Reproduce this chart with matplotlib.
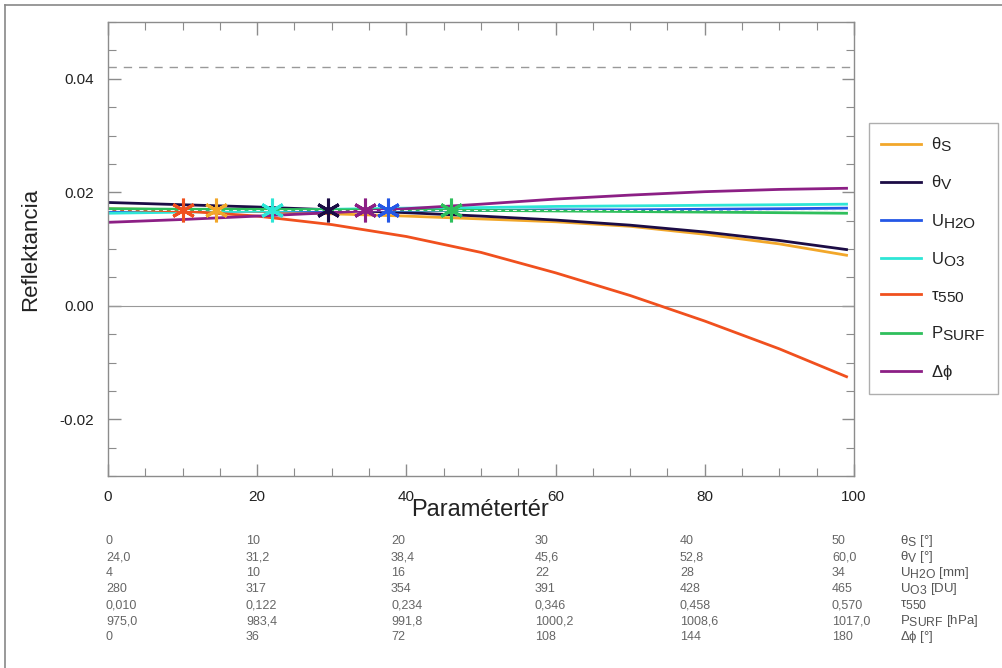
import matplotlib
matplotlib.use('Agg')
import matplotlib.pyplot as plt
from matplotlib.lines import Line2D

# IDL-style labels: subscripts nearly as large as the base text
try:
    import matplotlib._mathtext as _mt
    _mt.SHRINK_FACTOR = 0.92
except Exception:
    pass

plt.rcParams['font.family'] = ['Liberation Sans', 'DejaVu Sans']
plt.rcParams['mathtext.fontset'] = 'custom'
plt.rcParams['mathtext.rm'] = 'Liberation Sans'
plt.rcParams['mathtext.it'] = 'Liberation Sans'
plt.rcParams['mathtext.sf'] = 'Liberation Sans'

# parameter space positions where the curves were sampled
xs = [0, 10, 20, 30, 40, 50, 60, 70, 80, 90, 99]

theta_s = [0.0171, 0.0169, 0.0166, 0.0162, 0.0158, 0.0153, 0.0148, 0.0140, 0.0126, 0.0109, 0.0089]
theta_v = [0.0182, 0.0178, 0.0174, 0.0169, 0.0164, 0.0158, 0.0151, 0.0142, 0.0130, 0.0115, 0.0099]
u_h2o = [0.0166, 0.0166, 0.0167, 0.0167, 0.0168, 0.0168, 0.0169, 0.0169, 0.0170, 0.0171, 0.0172]
u_o3 = [0.0163, 0.0165, 0.0167, 0.0170, 0.0172, 0.0173, 0.0175, 0.0176, 0.0177, 0.0178, 0.0179]
tau550 = [0.0170, 0.0167, 0.0158, 0.0143, 0.0122, 0.0094, 0.0058, 0.0018, -0.0027, -0.0076, -0.0125]
p_surf = [0.0171, 0.0170, 0.0170, 0.0169, 0.0169, 0.0168, 0.0167, 0.0166, 0.0165, 0.0164, 0.0163]
d_phi = [0.0147, 0.0152, 0.0158, 0.0164, 0.0171, 0.0179, 0.0188, 0.0195, 0.0201, 0.0205, 0.0207]

series = [theta_s, theta_v, u_h2o, u_o3, tau550, p_surf, d_phi]
labels = [r'$\theta_{\mathrm{S}}$', r'$\theta_{\mathrm{V}}$', r'$\mathrm{U_{H2O}}$', r'$\mathrm{U_{O3}}$',
          r'$\tau_{\mathrm{550}}$', r'$\mathrm{P_{SURF}}$', r'$\Delta\phi$']
colors = ['#f2a72a', '#1c0c45', '#2457e6', '#2ee6d6', '#f0501e', '#2fbf5c', '#8c1f85']

# nominal parameter values (asterisks) and the reference reflectance
nominal_x = [14.5, 29.5, 37.5, 22, 10, 46, 34.5]
ref_refl = 0.0168
upper_refl = 0.042

# parameter scale table below the axis
table_rows = [
    ['0', '10', '20', '30', '40', '50'],
    ['24,0', '31,2', '38,4', '45,6', '52,8', '60,0'],
    ['4', '10', '16', '22', '28', '34'],
    ['280', '317', '354', '391', '428', '465'],
    ['0,010', '0,122', '0,234', '0,346', '0,458', '0,570'],
    ['975,0', '983,4', '991,8', '1000,2', '1008,6', '1017,0'],
    ['0', '36', '72', '108', '144', '180'],
]
table_units = [r'$\theta_{\mathrm{S}}$ [°]', r'$\theta_{\mathrm{V}}$ [°]', r'$\mathrm{U_{H2O}}$ [mm]',
               r'$\mathrm{U_{O3}}$ [DU]', r'$\tau_{\mathrm{550}}$', r'$\mathrm{P_{SURF}}$ [hPa]',
               r'$\Delta\phi$ [°]']

W, H = 1003, 668
fig = plt.figure(figsize=(W / 100, H / 100), dpi=100)
ax = fig.add_axes([108 / W, 1 - 476 / H, 746 / W, 454 / H])

ax.plot([0, 100], [upper_refl, upper_refl], color='#999999', lw=1, ls=(0, (6, 5)))
ax.axhline(0, color='#999999', lw=0.8)

for ys, lab, c in zip(series, labels, colors):
    ax.plot(xs, ys, color=c, lw=2, label=lab)

ax.plot([0, 100], [ref_refl, ref_refl], color='#f4f4f4', lw=0.7, ls=(0, (4, 4)), zorder=3)

for nx, c in zip(nominal_x, colors):
    ax.plot([nx], [ref_refl], marker=(6, 2, 0), ms=17, mew=2.2, color=c, zorder=4)

ax.set_xlim(0, 100)
ax.set_ylim(-0.03, 0.05)
ax.set_xticks([0, 20, 40, 60, 80, 100])
ax.set_xticks(range(0, 101, 5), minor=True)
ax.set_yticks([-0.02, 0.0, 0.02, 0.04])
ax.set_yticklabels(['-0.02', '0.00', '0.02', '0.04'])
ax.set_yticks([-0.03 + 0.005 * i for i in range(17)], minor=True)
for s in ax.spines.values():
    s.set_color('#8c8c8c')
    s.set_linewidth(1)
ax.tick_params(which='both', direction='in', top=True, right=True, color='#8c8c8c',
               labelsize=11, labelcolor='#222222', pad=10)
ax.tick_params(which='major', length=9, width=1)
ax.tick_params(which='minor', length=6, width=0.8)

ax.set_ylabel('Reflektancia', fontsize=16, color='#222222', labelpad=13)
fig.text(480 / W, 1 - 510 / H, 'Paramétertér', fontsize=17, color='#222222', ha='center', va='center')

leg = fig.legend(loc='upper left', bbox_to_anchor=(869 / W, 1 - 123 / H), fontsize=12,
                 frameon=True, fancybox=False, handlelength=2.4, labelspacing=1.17,
                 borderpad=0.75, handletextpad=0.55, borderaxespad=0)
leg.get_frame().set_edgecolor('#9a9a9a')
leg.get_frame().set_linewidth(1)
for t in leg.get_texts():
    t.set_color('#222222')

col_x = [106, 246, 391, 535, 680, 832]
for r, row in enumerate(table_rows):
    yy = 1 - (541 + 16 * r) / H
    for cx, txt in zip(col_x, row):
        fig.text(cx / W, yy, txt, fontsize=9, color='#666666', ha='left', va='center')
    fig.text(900 / W, yy, table_units[r], fontsize=9.5, color='#555555', ha='left', va='center')

fig.add_artist(Line2D([5 / W, 1], [1 - 5 / H, 1 - 5 / H], color='#888888', lw=1.2))
fig.add_artist(Line2D([5 / W, 5 / W], [0, 1 - 5 / H], color='#888888', lw=1.2))

fig.savefig('out.png', dpi=100)
